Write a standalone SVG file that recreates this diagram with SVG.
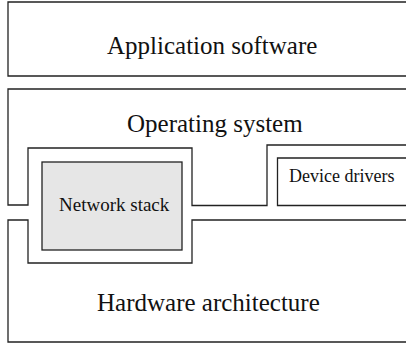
<svg xmlns="http://www.w3.org/2000/svg" width="406" height="347" viewBox="0 0 406 347">
<style>
.ln{fill:none;stroke:#222;stroke-width:1.3}
.big{font-family:"Liberation Serif","Times New Roman",serif;font-size:25px;fill:#111}
.sm{font-family:"Liberation Serif","Times New Roman",serif;font-size:18px;fill:#111}
</style>
<rect width="406" height="347" fill="#fff"/>
<g id="app">
<path class="ln" d="M410 2H8V76H410"/>
<text class="big" x="107" y="54">Application software</text>
</g>
<g id="os">
<path class="ln" d="M410 89H8V205H28V148H192V205.5H267V145H410"/>
<text class="big" x="127" y="131.5">Operating system</text>
</g>
<g id="hw">
<path class="ln" d="M410 220H192V263H28V220H8V342H410"/>
<text class="big" x="97" y="311">Hardware architecture</text>
</g>
<g id="net">
<rect class="ln" x="42" y="162" width="140" height="88" style="fill:#e6e6e6"/>
<text class="sm" x="59" y="211" style="font-size:19px">Network stack</text>
</g>
<g id="drv">
<path class="ln" d="M410 158H277.5V205.5H410"/>
<text class="sm" x="289" y="182">Device drivers</text>
</g>
<g id="connectors"/>
</svg>
